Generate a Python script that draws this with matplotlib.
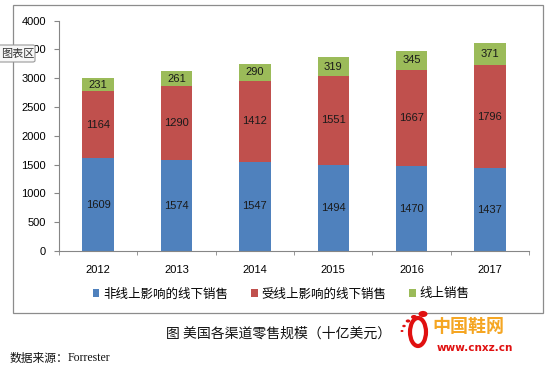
import matplotlib
matplotlib.use("Agg")
import matplotlib.pyplot as plt
from matplotlib.patches import Rectangle, FancyBboxPatch, Circle, Ellipse
import numpy as np

plt.rcParams['font.family'] = ['Noto Sans CJK SC', 'DejaVu Sans']

years = ['2012', '2013', '2014', '2015', '2016', '2017']
offline_unaffected = [1609, 1574, 1547, 1494, 1470, 1437]
offline_affected = [1164, 1290, 1412, 1551, 1667, 1796]
online = [231, 261, 290, 319, 345, 371]
series_names = ['非线上影响的线下销售', '受线上影响的线下销售', '线上销售']
colors = ['#4F81BD', '#C0504D', '#9BBB59']
yticks = [0, 500, 1000, 1500, 2000, 2500, 3000, 3500, 4000]

W, H = 550, 376
fig = plt.figure(figsize=(5.5, 3.76), dpi=100)

def fx(px):
    return px / W

def fy(py):
    return 1 - py / H

# outer chart border
fig.patches.append(Rectangle((fx(13), fy(313)), fx(543) - fx(13), fy(5) - fy(313),
                             transform=fig.transFigure, fill=False,
                             edgecolor='#8C8C8C', linewidth=0.9, zorder=0))

ax = fig.add_axes([fx(59), fy(251), fx(529) - fx(59), fy(20.7) - fy(251)])
x = np.arange(len(years))
w = 0.40
series = [offline_unaffected, offline_affected, online]
bottom = np.zeros(len(years))
handles = []
for vals, c, name in zip(series, colors, series_names):
    vals = np.array(vals, dtype=float)
    b = ax.bar(x, vals, w, bottom=bottom, color=c, label=name, zorder=2)
    handles.append(b)
    for xi, v, bt in zip(x, vals, bottom):
        ax.text(xi, bt + v / 2, f'{int(v)}', ha='center', va='center',
                fontsize=8, color='#1A1A1A', family=['Liberation Sans', 'DejaVu Sans'], zorder=3)
    bottom = bottom + vals

ax.set_xlim(-0.5, len(years) - 0.5)
ax.set_ylim(0, 4000)
ax.set_yticks(yticks)
ax.set_yticklabels([str(t) for t in yticks], fontsize=8, family=['Liberation Sans', 'DejaVu Sans'])
ax.set_xticks(x)
ax.set_xticklabels(years, fontsize=8, family=['Liberation Sans', 'DejaVu Sans'])
ax.set_xticks(np.arange(-0.5, len(years)), minor=True)
ax.tick_params(axis='x', which='major', length=0, pad=10)
ax.tick_params(axis='x', which='minor', length=3, color='#868686', direction='out')
ax.tick_params(axis='y', length=3.5, color='#868686', direction='out', pad=6)
for s in ['top', 'right']:
    ax.spines[s].set_visible(False)
for s in ['left', 'bottom']:
    ax.spines[s].set_color('#868686')
    ax.spines[s].set_linewidth(0.8)

leg = fig.legend(handles, series_names, loc='center', bbox_to_anchor=(fx(281), fy(294)),
                 ncol=3, frameon=False, fontsize=9, handlelength=0.55, handleheight=0.55,
                 handletextpad=0.3, columnspacing=1.8)

# tooltip artifact
fig.patches.append(FancyBboxPatch((fx(-4), fy(62)), fx(39), fy(45) - fy(62),
                                  boxstyle='round,pad=0,rounding_size=0.004',
                                  transform=fig.transFigure, facecolor='#F7F7F7',
                                  edgecolor='#9A9A9A', linewidth=0.8, zorder=10))
fig.text(fx(1), fy(53.5), '图表区', fontsize=8, va='center', ha='left', color='#333333', zorder=11)

# caption and source
fig.text(fx(166), fy(334), '图 美国各渠道零售规模（十亿美元）', fontsize=10, ha='left', va='center', color='#111111')
fig.text(fx(10), fy(358), '数据来源：', fontsize=8.5, ha='left', va='center', color='#111111')
fig.text(fx(68), fy(358), 'Forrester', fontsize=8.5, ha='left', va='center', color='#111111',
         family=['Liberation Serif', 'DejaVu Serif'])

# logo
fig.text(fx(432), fy(327), '中国鞋网', fontsize=13, fontweight='bold', color='#F5A623',
         ha='left', va='center')
fig.text(fx(437), fy(348), 'www.cnxz.cn', fontsize=7.5, fontweight='bold', color='#E01010',
         ha='left', va='center', family=['DejaVu Sans'])
fig.patches.append(Ellipse((fx(418), fy(332)), fx(16), fy(318) - fy(346), transform=fig.transFigure,
                           facecolor='white', edgecolor='#E01010', linewidth=3, zorder=5))
for (cx, cy, r) in [(423, 314, 4.5), (414, 317, 3), (408, 321, 2.3), (404, 326, 1.8), (402, 331, 1.5)]:
    fig.patches.append(Circle((fx(cx), fy(cy)), fx(r), transform=fig.transFigure,
                              facecolor='#E01010', edgecolor='none', zorder=5))

fig.savefig('out.png', dpi=100)
